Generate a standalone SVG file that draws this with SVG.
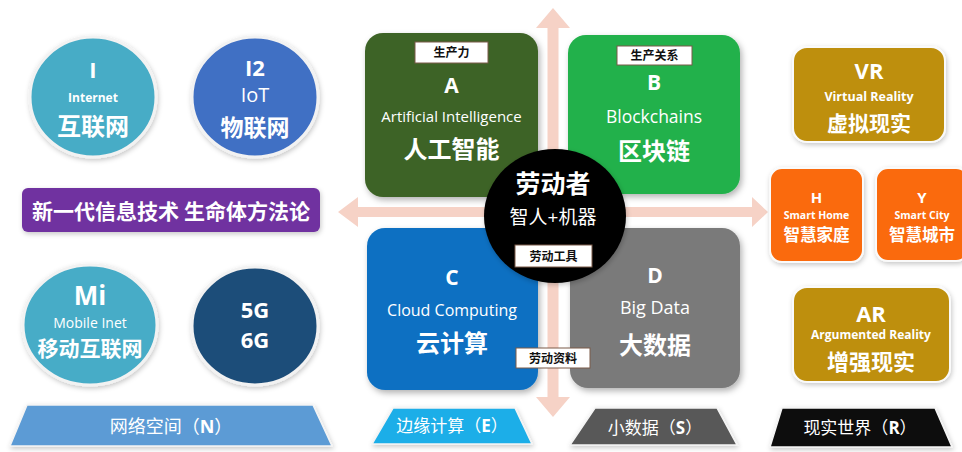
<svg xmlns="http://www.w3.org/2000/svg" width="962" height="452" viewBox="0 0 962 452">
  <defs>
    <filter id="shadow" x="-20%" y="-20%" width="140%" height="140%">
      <feDropShadow dx="2" dy="3" stdDeviation="3" flood-color="#000" flood-opacity="0.3"/>
    </filter>
    <filter id="soft" x="-20%" y="-20%" width="140%" height="140%">
      <feDropShadow dx="1" dy="2" stdDeviation="2.5" flood-color="#000" flood-opacity="0.22"/>
    </filter>
    <style>
      text { text-anchor: middle; fill: #fff; }
      .en { font-family: "Open Sans", "Noto Sans", sans-serif; }
      .cn { font-family: "Noto Sans CJK SC", sans-serif; font-weight: 700; }
      .cnr { font-family: "Open Sans", "Noto Sans CJK SC", sans-serif; font-weight: 400; }
      .b { font-weight: 700; }
      .ring { stroke: #f2f2f2; stroke-width: 3; filter: url(#soft); }
      .quad { filter: url(#shadow); }
      .tile { stroke: #fafafa; stroke-width: 2; filter: url(#soft); }
      .tag { fill: #fff; stroke: #7a5a48; stroke-width: 1; }
      .tagtxt { fill: #111; font-family: "Noto Sans CJK SC", sans-serif; font-weight: 700; font-size: 12px; }
      .arrow { fill: #f6d2c6; }
      .base { stroke: #f4f4f4; stroke-width: 1.5; filter: url(#soft); }
    </style>
  </defs>

  <rect width="962" height="452" fill="#fff"/>

  <!-- block arrows crossing the quadrants -->
  <g id="connectors">
    <polygon class="arrow" points="553,8 570,28 558.5,28 558.5,397 570,397 553,417 536,397 547.5,397 547.5,28 536,28"/>
    <polygon class="arrow" points="338,212 358,197 358,207 752,207 752,197 768,212 752,227 752,217 358,217 358,227"/>
  </g>

  <!-- network circles -->
  <g id="node-internet">
    <ellipse class="ring" cx="93" cy="97" rx="63" ry="60" fill="#47acc6"/>
    <text class="en b" x="93" y="78" font-size="22">I</text>
    <text class="en b" x="93" y="102" font-size="12">Internet</text>
    <text class="cn" x="93" y="135" font-size="24">互联网</text>
  </g>
  <g id="node-iot">
    <ellipse class="ring" cx="255" cy="97" rx="63" ry="60" fill="#3f6fc4"/>
    <text class="en b" x="255" y="76" font-size="22">I2</text>
    <text class="en" x="255" y="102" font-size="20">IoT</text>
    <text class="cn" x="255" y="136" font-size="23">物联网</text>
  </g>
  <g id="node-method">
    <rect x="22" y="188" width="298" height="44" rx="6" fill="#7030a0" filter="url(#soft)"/>
    <text class="cn" x="171" y="219" font-size="21">新一代信息技术 生命体方法论</text>
  </g>
  <g id="node-mobile">
    <ellipse class="ring" cx="90" cy="325" rx="67" ry="60" fill="#46acc7"/>
    <text class="en b" x="90" y="305" font-size="26">Mi</text>
    <text class="en" x="90" y="328" font-size="14">Mobile Inet</text>
    <text class="cn" x="90" y="356" font-size="21">移动互联网</text>
  </g>
  <g id="node-5g">
    <ellipse class="ring" cx="255" cy="326" rx="63" ry="59" fill="#1f4e79"/>
    <text class="en b" x="255" y="318" font-size="22">5G</text>
    <text class="en b" x="255" y="348" font-size="22">6G</text>
  </g>
  <g id="node-n">
    <polygon class="base" points="27,405 313,405 332,446 10,446" fill="#5b9bd5"/>
    <text class="cnr" x="171" y="433" font-size="18">网络空间（<tspan font-weight="700">N</tspan>）</text>
  </g>

  <!-- ABCD quadrants -->
  <g id="node-a">
    <rect class="quad" x="365" y="33" width="173" height="164" rx="18" fill="#3e6327"/>
    <rect class="tag" x="415" y="42" width="73" height="21"/>
    <text class="tagtxt" x="451.5" y="57">生产力</text>
    <text class="en b" x="451.5" y="93" font-size="21">A</text>
    <text class="en" x="451.5" y="122" font-size="15">Artificial Intelligence</text>
    <text class="cn" x="451.5" y="158" font-size="24">人工智能</text>
  </g>
  <g id="node-b">
    <rect class="quad" x="568" y="35" width="172" height="159" rx="18" fill="#21b14b"/>
    <rect class="tag" x="617" y="46" width="75" height="19"/>
    <text class="tagtxt" x="654.5" y="60">生产关系</text>
    <text class="en b" x="654" y="90" font-size="21">B</text>
    <text class="en" x="654" y="123" font-size="17.5">Blockchains</text>
    <text class="cn" x="654" y="160" font-size="24">区块链</text>
  </g>
  <g id="node-c">
    <rect class="quad" x="367" y="228" width="171" height="162" rx="18" fill="#0a70c2"/>
    <text class="en b" x="452" y="285" font-size="21">C</text>
    <text class="en" x="452" y="316" font-size="16">Cloud Computing</text>
    <text class="cn" x="452" y="352" font-size="24">云计算</text>
  </g>
  <g id="node-d">
    <rect class="quad" x="570" y="228" width="170" height="160" rx="18" fill="#7a7a7a"/>
    <text class="en b" x="655" y="283" font-size="21">D</text>
    <text class="en" x="655" y="314" font-size="18">Big Data</text>
    <text class="cn" x="655" y="354" font-size="24">大数据</text>
  </g>
  <g id="node-worker">
    <ellipse cx="555" cy="216" rx="71" ry="67" fill="#050505" filter="url(#soft)"/>
    <text class="cn" x="553" y="193" font-size="25">劳动者</text>
    <text class="cnr" x="553" y="224" font-size="19">智人+机器</text>
    <rect class="tag" x="515" y="245" width="77" height="22"/>
    <text class="tagtxt" x="553.5" y="261">劳动工具</text>
  </g>
  <g id="node-material">
    <rect class="tag" x="516" y="348" width="74" height="20"/>
    <text class="tagtxt" x="553" y="363">劳动资料</text>
  </g>
  <g id="node-e">
    <polygon class="base" points="393,408 515,408 532,444 372,444" fill="#1faee8"/>
    <text class="cnr" x="452" y="432" font-size="17">边缘计算（<tspan font-weight="700">E</tspan>）</text>
  </g>
  <g id="node-s">
    <polygon class="base" points="595,408 717,408 737,445 570,445" fill="#595959"/>
    <text class="cnr" x="655" y="434" font-size="17">小数据（<tspan font-weight="700">S</tspan>）</text>
  </g>

  <!-- reality side -->
  <g id="node-vr">
    <rect class="tile" x="793" y="47" width="152" height="95" rx="14" fill="#be8f0a"/>
    <text class="en b" x="869" y="79" font-size="22">VR</text>
    <text class="en b" x="869" y="101" font-size="12.5">Virtual Reality</text>
    <text class="cn" x="869" y="131" font-size="21">虚拟现实</text>
  </g>
  <g id="node-h">
    <rect class="tile" x="770" y="168" width="93" height="94" rx="12" fill="#fa6a0a"/>
    <text class="en b" x="816.5" y="203" font-size="15">H</text>
    <text class="en b" x="816.5" y="219" font-size="10.5">Smart Home</text>
    <text class="cn" x="816.5" y="241" font-size="16.5">智慧家庭</text>
  </g>
  <g id="node-y">
    <rect class="tile" x="876" y="168" width="92" height="93" rx="12" fill="#fa6a0a"/>
    <text class="en b" x="922" y="203" font-size="15">Y</text>
    <text class="en b" x="922" y="219" font-size="10.5">Smart City</text>
    <text class="cn" x="922" y="241" font-size="16.5">智慧城市</text>
  </g>
  <g id="node-ar">
    <rect class="tile" x="793" y="287" width="157" height="95" rx="14" fill="#be8f0a"/>
    <text class="en b" x="871" y="322" font-size="22">AR</text>
    <text class="en b" x="871" y="339" font-size="12">Argumented Reality</text>
    <text class="cn" x="871" y="370" font-size="22">增强现实</text>
  </g>
  <g id="node-r">
    <polygon class="base" points="782,408 935,408 952,447 770,447" fill="#0d0d0d"/>
    <text class="cnr" x="860" y="434" font-size="17">现实世界（<tspan font-weight="700">R</tspan>）</text>
  </g>
</svg>
